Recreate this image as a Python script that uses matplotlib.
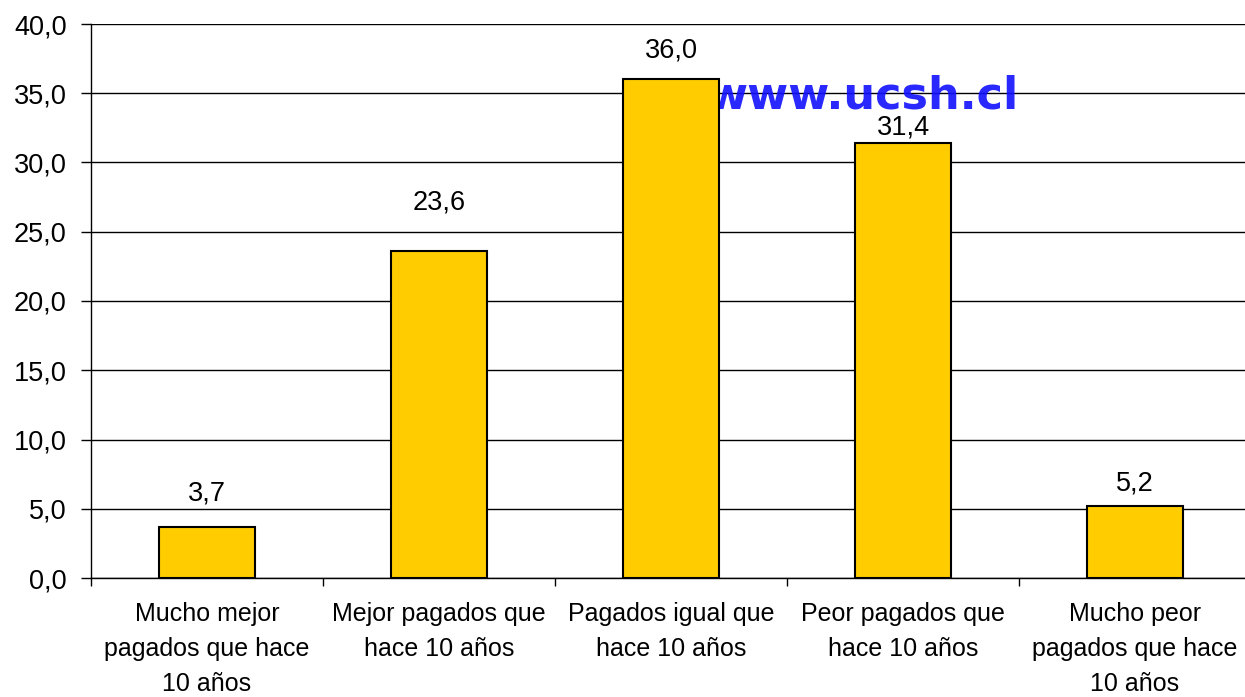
import matplotlib.pyplot as plt
import numpy as np

categories = ["Mucho mejor\npagados que hace\n10 años",
              "Mejor pagados que\nhace 10 años",
              "Pagados igual que\nhace 10 años",
              "Peor pagados que\nhace 10 años",
              "Mucho peor\npagados que hace\n10 años"]
values = [3.7, 23.6, 36.0, 31.4, 5.2]
value_labels = ["3,7", "23,6", "36,0", "31,4", "5,2"]
yticks = [0, 5, 10, 15, 20, 25, 30, 35, 40]

# label offsets above each bar (points), as placed in the original
label_offsets = [24, 35, 21, 11.5, 16.5]

plt.rcParams['font.family'] = ['Liberation Sans', 'DejaVu Sans']

fig = plt.figure(figsize=(12.45, 6.97), dpi=100)
ax = fig.add_axes([91 / 1245, 1 - 578 / 697, 1160 / 1245, 554 / 697])

x = np.arange(len(categories))
for yv in yticks:
    ax.axhline(yv, color='black', linewidth=1, zorder=1)

# watermark, partly hidden behind the middle bar
ax.text(3.5, 33.9, "www.ucsh.cl", color='#1010ff', alpha=0.9,
        fontsize=32, fontweight='bold', family='DejaVu Sans',
        ha='right', va='baseline', zorder=2)

ax.bar(x, values, width=0.41, color='#ffcc00', edgecolor='black',
       linewidth=1.5, zorder=3)

for xi, v, lab, off in zip(x, values, value_labels, label_offsets):
    ax.annotate(lab, (xi, v), xytext=(0, off), textcoords='offset points',
                ha='center', va='center', fontsize=19.5, zorder=4)

ax.set_xlim(-0.5, len(categories) - 0.5)
ax.set_ylim(0, 40)
ax.set_yticks(yticks)
ax.set_yticklabels([f"{t:.1f}".replace('.', ',') for t in yticks], fontsize=19.5)
ax.tick_params(axis='y', length=7, width=1, pad=10.5)

ax.set_xticks(np.arange(len(categories) + 1) - 0.5)
ax.set_xticklabels([])
ax.tick_params(axis='x', which='major', length=6, width=1)
ax.set_xticks(x, minor=True)
ax.set_xticklabels(categories, minor=True, fontsize=18, linespacing=1.6)
ax.tick_params(axis='x', which='minor', length=0, pad=17)

for s in ['top', 'right']:
    ax.spines[s].set_visible(False)
ax.spines['left'].set_linewidth(1)
ax.spines['bottom'].set_linewidth(1)
ax.spines['bottom'].set_zorder(5)

fig.savefig("out.png", dpi=100)
